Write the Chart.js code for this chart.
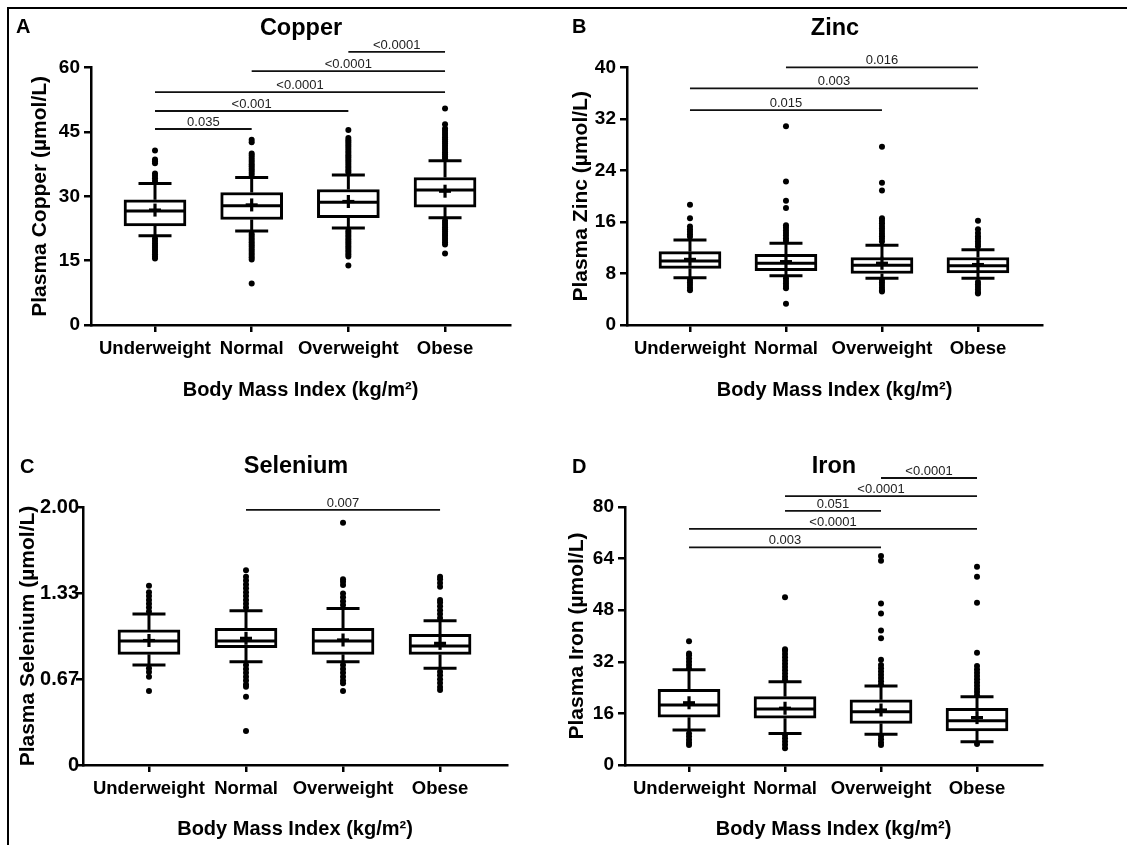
<!DOCTYPE html>
<html>
<head>
<meta charset="utf-8">
<script src="https://cdn.jsdelivr.net/npm/chart.js@4.4.1/dist/chart.umd.min.js"></script>
<style>
html,body{margin:0;padding:0;background:#fff;}
#wrap{position:relative;width:1127px;height:845px;overflow:hidden;background:#fff;}
canvas{position:absolute;}
.frame{position:absolute;background:#000;}
</style>
</head>
<body>
<div id="wrap">
  <canvas id="cA" width="560" height="420" style="left:0px;top:0px"></canvas>
  <canvas id="cB" width="567" height="420" style="left:560px;top:0px"></canvas>
  <canvas id="cC" width="560" height="425" style="left:0px;top:420px"></canvas>
  <canvas id="cD" width="567" height="425" style="left:560px;top:420px"></canvas>
  <div class="frame" style="left:7px;top:7px;width:1120px;height:2px"></div>
  <div class="frame" style="left:7px;top:7px;width:2px;height:838px"></div>
</div>
<script>
// ---------------- DATA ----------------
const categories = ['Underweight', 'Normal', 'Overweight', 'Obese'];

// Copper
const copperTicks = [0, 15, 30, 45, 60];
const copperTickLabels = ['0', '15', '30', '45', '60'];
const copperQ1 = [23.1, 24.6, 25.0, 27.5];
const copperMedian = [26.6, 27.8, 28.6, 31.5];
const copperQ3 = [29.2, 30.9, 31.6, 34.4];
const copperWhiskerLow = [20.8, 21.9, 22.6, 25.0];
const copperWhiskerHigh = [33.0, 34.4, 35.0, 38.3];
const copperMean = [26.8, 28.0, 28.8, 31.2];
const copperOutliers = [
  [33.6, 34.2, 34.8, 35.3, 37.7, 38.2, 38.6, 40.7, 20.2, 19.6, 19.0, 18.5, 18.0, 17.5, 17.0, 16.5, 16.0, 15.5],
  [35.0, 35.5, 36.0, 36.5, 37.0, 37.5, 38.0, 38.5, 39.0, 39.5, 40.0, 42.6, 43.2, 21.3, 20.8, 20.3, 19.8, 19.3, 18.8, 18.3, 17.8, 17.3, 16.8, 16.3, 15.8, 15.3, 9.7],
  [35.6, 36.1, 36.6, 37.1, 37.6, 38.1, 38.6, 39.1, 39.6, 40.1, 40.6, 41.1, 41.6, 42.1, 42.6, 43.1, 43.6, 45.5, 22.0, 21.5, 21.0, 20.5, 20.0, 19.5, 19.0, 18.5, 18.0, 17.5, 17.0, 16.5, 16.0, 13.9],
  [38.8, 39.3, 39.8, 40.3, 40.8, 41.3, 41.8, 42.3, 42.8, 43.3, 43.8, 44.3, 44.8, 45.3, 45.8, 46.8, 50.5, 24.3, 23.8, 23.3, 22.8, 22.3, 21.8, 21.3, 20.8, 20.3, 19.8, 19.3, 18.8, 16.7]
];
const copperBrackets = [
  [0, 1, 45.7, '0.035'],
  [0, 2, 49.9, '<0.001'],
  [0, 3, 54.3, '<0.0001'],
  [1, 3, 59.2, '<0.0001'],
  [2, 3, 63.7, '<0.0001']
];

// Zinc
const zincTicks = [0, 8, 16, 24, 32, 40];
const zincTickLabels = ['0', '8', '16', '24', '32', '40'];
const zincQ1 = [8.8, 8.45, 8.0, 8.1];
const zincMedian = [9.95, 9.6, 9.3, 9.2];
const zincQ3 = [11.4, 11.0, 10.5, 10.5];
const zincWhiskerLow = [7.36, 7.67, 7.26, 7.26];
const zincWhiskerHigh = [13.2, 12.7, 12.4, 11.7];
const zincMean = [10.2, 9.85, 9.6, 9.4];
const zincOutliers = [
  [13.7, 14.1, 14.5, 14.9, 15.3, 16.6, 18.7, 7.0, 6.6, 6.2, 5.8, 5.4],
  [13.1, 13.5, 13.9, 14.3, 14.7, 15.1, 15.5, 18.2, 19.3, 22.3, 30.9, 7.25, 6.85, 6.45, 6.05, 5.7, 3.3],
  [13.0, 13.4, 13.8, 14.2, 14.6, 15.0, 15.4, 15.8, 16.2, 16.6, 20.9, 22.1, 27.7, 7.0, 6.6, 6.2, 5.8, 5.4, 5.2],
  [12.2, 12.6, 13.0, 13.4, 13.8, 14.3, 14.9, 16.2, 6.7, 6.3, 5.9, 5.5, 5.1, 4.9]
];
const zincBrackets = [
  [0, 2, 33.4, '0.015'],
  [0, 3, 36.8, '0.003'],
  [1, 3, 40.05, '0.016']
];

// Selenium
const seleniumTicks = [0, 0.6667, 1.3333, 2.0];
const seleniumTickLabels = ['0', '0.67', '1.33', '2.00'];
const seleniumQ1 = [0.858, 0.909, 0.858, 0.858];
const seleniumMedian = [0.961, 0.961, 0.961, 0.922];
const seleniumQ3 = [1.047, 1.06, 1.06, 1.013];
const seleniumWhiskerLow = [0.775, 0.801, 0.801, 0.75];
const seleniumWhiskerHigh = [1.171, 1.196, 1.214, 1.119];
const seleniumMean = [0.965, 0.982, 0.969, 0.943];
const seleniumOutliers = [
  [1.19, 1.22, 1.25, 1.28, 1.31, 1.34, 1.39, 0.75, 0.72, 0.685, 0.574],
  [1.22, 1.25, 1.28, 1.31, 1.34, 1.37, 1.40, 1.43, 1.46, 1.51, 0.775, 0.745, 0.715, 0.685, 0.655, 0.625, 0.607, 0.53, 0.264],
  [1.24, 1.27, 1.30, 1.33, 1.395, 1.42, 1.44, 1.878, 0.775, 0.745, 0.715, 0.685, 0.655, 0.633, 0.574],
  [1.14, 1.17, 1.20, 1.23, 1.26, 1.28, 1.382, 1.41, 1.44, 1.46, 0.723, 0.695, 0.665, 0.635, 0.605, 0.581]
];
const seleniumBrackets = [
  [1, 3, 1.977, '0.007']
];

// Iron
const ironTicks = [0, 16, 32, 48, 64, 80];
const ironTickLabels = ['0', '16', '32', '48', '64', '80'];
const ironQ1 = [14.8, 14.5, 12.9, 10.6];
const ironMedian = [18.6, 17.4, 16.5, 13.7];
const ironQ3 = [23.5, 21.2, 20.2, 17.6];
const ironWhiskerLow = [10.85, 9.8, 9.5, 7.2];
const ironWhiskerHigh = [29.5, 25.8, 24.5, 21.2];
const ironMean = [19.3, 17.6, 17.05, 14.7];
const ironOutliers = [
  [30.0, 31.0, 32.0, 33.0, 34.0, 34.6, 38.4, 9.8, 8.8, 7.8, 6.9, 6.2],
  [26.4, 27.4, 28.4, 29.4, 30.4, 31.4, 32.4, 33.4, 34.4, 35.4, 35.9, 52.0, 9.3, 8.3, 7.3, 6.3, 5.2],
  [25.0, 26.0, 27.0, 28.0, 29.0, 30.0, 31.0, 32.6, 39.3, 41.7, 47.0, 50.1, 63.3, 64.8, 9.0, 8.0, 7.0, 6.2],
  [21.6, 22.6, 23.6, 24.6, 25.6, 26.6, 27.6, 28.6, 29.6, 30.7, 34.8, 50.3, 58.4, 61.5, 6.5]
];
const ironBrackets = [
  [0, 2, 67.5, '0.003'],
  [0, 3, 73.2, '<0.0001'],
  [1, 2, 78.8, '0.051'],
  [1, 3, 83.4, '<0.0001'],
  [2, 3, 89.0, '<0.0001']
];

const xTitleText = 'Body Mass Index (kg/m\u00B2)';

// ---------------- PANELS (layout/style) ----------------
const FONT = '"Liberation Sans", Arial, Helvetica, sans-serif';
const panels = [
  {canvas: 'cA', W: 560, H: 420, letter: 'A', title: 'Copper', yTitle: 'Plasma Copper (\u00B5mol/L)',
   q1: copperQ1, med: copperMedian, q3: copperQ3, lo: copperWhiskerLow, hi: copperWhiskerHigh, mean: copperMean,
   out: copperOutliers, ticks: copperTicks, tickLabels: copperTickLabels, brackets: copperBrackets,
   L: 91, R: 510, T: 67.7, B: 325, xMin: -0.662, xMax: 3.672,
   titleX: 301, titleY: 35, letterX: 16, letterY: 33, yTitlePad: 28, xTitlePad: 18, yTickPad: 4, yTickSize: 19},
  {canvas: 'cB', W: 567, H: 420, letter: 'B', title: 'Zinc', yTitle: 'Plasma Zinc (\u00B5mol/L)',
   q1: zincQ1, med: zincMedian, q3: zincQ3, lo: zincWhiskerLow, hi: zincWhiskerHigh, mean: zincMean,
   out: zincOutliers, ticks: zincTicks, tickLabels: zincTickLabels, brackets: zincBrackets,
   L: 67, R: 482, T: 67.7, B: 325, xMin: -0.656, xMax: 3.667,
   titleX: 275, titleY: 35, letterX: 12, letterY: 33, yTitlePad: 8.4, xTitlePad: 18, yTickPad: 4, yTickSize: 19},
  {canvas: 'cC', W: 560, H: 425, letter: 'C', title: 'Selenium', yTitle: 'Plasma Selenium (\u00B5mol/L)',
   q1: seleniumQ1, med: seleniumMedian, q3: seleniumQ3, lo: seleniumWhiskerLow, hi: seleniumWhiskerHigh, mean: seleniumMean,
   out: seleniumOutliers, ticks: seleniumTicks, tickLabels: seleniumTickLabels, brackets: seleniumBrackets,
   L: 83, R: 507, T: 87, B: 345, xMin: -0.68, xMax: 3.69,
   titleX: 296, titleY: 53, letterX: 20, letterY: 53, yTitlePad: 15.4, xTitlePad: 4, yTickPad: -3, yTickSize: 20},
  {canvas: 'cD', W: 567, H: 425, letter: 'D', title: 'Iron', yTitle: 'Plasma Iron (\u00B5mol/L)',
   q1: ironQ1, med: ironMedian, q3: ironQ3, lo: ironWhiskerLow, hi: ironWhiskerHigh, mean: ironMean,
   out: ironOutliers, ticks: ironTicks, tickLabels: ironTickLabels, brackets: ironBrackets,
   L: 65, R: 482, T: 87, B: 345, xMin: -0.667, xMax: 3.677,
   titleX: 274, titleY: 53, letterX: 12, letterY: 53, yTitlePad: 5, xTitlePad: 4, yTickPad: 4, yTickSize: 19}
];

const BOX_W = 62, CAP_W = 33, LW = 3;

function makeDecor(p) {
  function line(ctx, x1, y1, x2, y2) {
    ctx.beginPath(); ctx.moveTo(x1, y1); ctx.lineTo(x2, y2); ctx.stroke();
  }
  return {
    id: 'decor' + p.letter,
    afterDatasetsDraw(chart) {
      const ctx = chart.ctx, xs = chart.scales.x, ys = chart.scales.y;
      ctx.save();
      ctx.strokeStyle = '#000';
      ctx.lineCap = 'butt';
      categories.forEach((c, i) => {
        const x = xs.getPixelForValue(i);
        const yq1 = ys.getPixelForValue(p.q1[i]);
        const yq3 = ys.getPixelForValue(p.q3[i]);
        const ymed = ys.getPixelForValue(p.med[i]);
        const ylo = ys.getPixelForValue(p.lo[i]);
        const yhi = ys.getPixelForValue(p.hi[i]);
        const ymean = ys.getPixelForValue(p.mean[i]);
        ctx.lineWidth = LW;
        line(ctx, x, yq3, x, yhi);
        line(ctx, x - CAP_W / 2, yhi, x + CAP_W / 2, yhi);
        line(ctx, x, yq1, x, ylo);
        line(ctx, x - CAP_W / 2, ylo, x + CAP_W / 2, ylo);
        line(ctx, x - BOX_W / 2 + 1, ymed, x + BOX_W / 2 - 1, ymed);
        ctx.lineWidth = 3.2;
        line(ctx, x - 6, ymean, x + 6, ymean);
        line(ctx, x, ymean - 6.5, x, ymean + 6.5);
      });
      ctx.restore();
    },
    afterDraw(chart) {
      const ctx = chart.ctx, xs = chart.scales.x, ys = chart.scales.y;
      ctx.save();
      p.brackets.forEach(([a, b, v, label]) => {
        const x1 = xs.getPixelForValue(a), x2 = xs.getPixelForValue(b);
        const y = ys.getPixelForValue(v);
        ctx.strokeStyle = '#111';
        ctx.lineWidth = 1.8;
        line(ctx, x1, y, x2, y);
        ctx.fillStyle = '#222';
        ctx.font = '13px ' + FONT;
        ctx.textAlign = 'center';
        ctx.textBaseline = 'alphabetic';
        ctx.fillText(label, (x1 + x2) / 2, y - 3);
      });
      ctx.fillStyle = '#000';
      ctx.font = 'bold 23.5px ' + FONT;
      ctx.textAlign = 'center';
      ctx.textBaseline = 'alphabetic';
      ctx.fillText(p.title, p.titleX, p.titleY);
      ctx.font = 'bold 20px ' + FONT;
      ctx.textAlign = 'left';
      ctx.fillText(p.letter, p.letterX, p.letterY);
      ctx.restore();
    }
  };
}

panels.forEach(p => {
  const boxData = categories.map((c, i) => ({x: i, y: [p.q1[i], p.q3[i]]}));
  const outData = [];
  p.out.forEach((arr, i) => arr.forEach(v => outData.push({x: i, y: v})));
  new Chart(document.getElementById(p.canvas), {
    type: 'bar',
    data: {
      datasets: [
        {type: 'bar', data: boxData, backgroundColor: '#fff', borderColor: '#000', borderWidth: LW,
         borderSkipped: false, barThickness: BOX_W, order: 2},
        {type: 'scatter', data: outData, pointRadius: 3, pointBackgroundColor: '#000',
         pointBorderWidth: 0, pointBorderColor: '#000', order: 1}
      ]
    },
    options: {
      responsive: false,
      animation: false,
      devicePixelRatio: 1,
      layout: {padding: {left: 0, top: p.T, right: p.W - p.R, bottom: 0}},
      plugins: {legend: {display: false}, tooltip: {enabled: false}, title: {display: false}},
      scales: {
        x: {
          type: 'linear', min: p.xMin, max: p.xMax, offset: false,
          afterBuildTicks: s => { s.ticks = categories.map((c, i) => ({value: i})); },
          afterFit: s => { s.height = p.H - p.B; },
          ticks: {autoSkip: false, maxRotation: 0, minRotation: 0, padding: 6, color: '#000',
                  font: {family: FONT, size: 18.5, weight: 'bold'},
                  callback: (v) => categories[Math.round(v)]},
          grid: {display: true, offset: false, drawOnChartArea: false, drawTicks: true, tickLength: 7, color: '#000', lineWidth: 2.5},
          border: {display: true, color: '#000', width: 2.5},
          title: {display: true, text: xTitleText, color: '#000',
                  font: {family: FONT, size: 20, weight: 'bold'}, padding: {top: 0, bottom: p.xTitlePad}}
        },
        y: {
          type: 'linear', min: 0, max: p.ticks[p.ticks.length - 1],
          afterBuildTicks: s => { s.ticks = p.ticks.map(v => ({value: v})); },
          afterFit: s => { s.width = p.L; },
          ticks: {padding: p.yTickPad, color: '#000', font: {family: FONT, size: p.yTickSize, weight: 'bold'},
                  callback: (v, i) => p.tickLabels[i]},
          grid: {display: true, drawOnChartArea: false, drawTicks: true, tickLength: 7, color: '#000', lineWidth: 2.5},
          border: {display: true, color: '#000', width: 2.5},
          title: {display: true, text: p.yTitle, color: '#000',
                  font: {family: FONT, size: 21, weight: 'bold'}, padding: {top: p.yTitlePad, bottom: 0}}
        }
      }
    },
    plugins: [makeDecor(p)]
  });
});
</script>
</body>
</html>
